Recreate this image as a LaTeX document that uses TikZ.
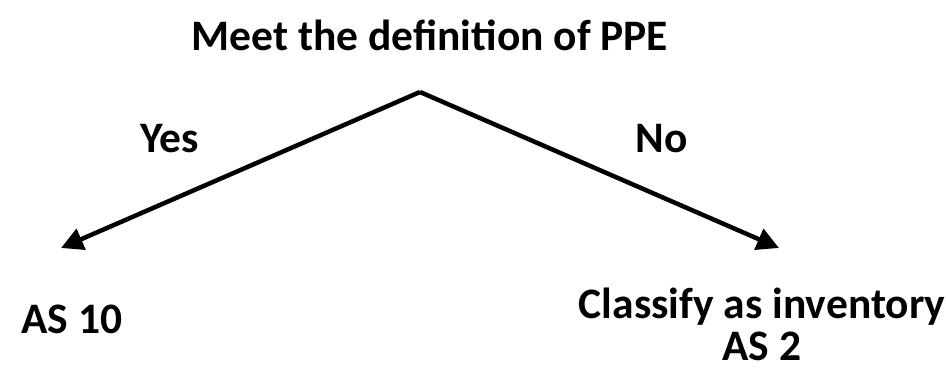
\documentclass[tikz,border=0pt]{standalone}
\usepackage{fontspec}
\setmainfont{Carlito}
\usetikzlibrary{arrows.meta}
\begin{document}
\begin{tikzpicture}[x=1pt,y=1pt,
  lbl/.style={font=\bfseries\fontsize{43.5}{42}\selectfont, inner sep=0pt, align=center},
  arr/.style={line width=4.5pt, -{Triangle[length=22pt,width=22pt]}}]
\useasboundingbox (0,0) rectangle (946,371);
\node[lbl] (title) at (430,336) {Meet the definition of PPE};
\coordinate (apex) at (420,279);
\coordinate (left) at (61,123);
\coordinate (right) at (779,123);
\node[lbl] (yes) at (170,232) {Yes};
\node[lbl] (no) at (662,232) {No};
\node[lbl] (as10) at (72,52) {AS 10};
\node[lbl] (inv) at (762,47) {Classify as inventory\\AS 2};
\draw[arr] (apex) -- (left);
\draw[arr] (apex) -- (right);
\end{tikzpicture}
\end{document}
